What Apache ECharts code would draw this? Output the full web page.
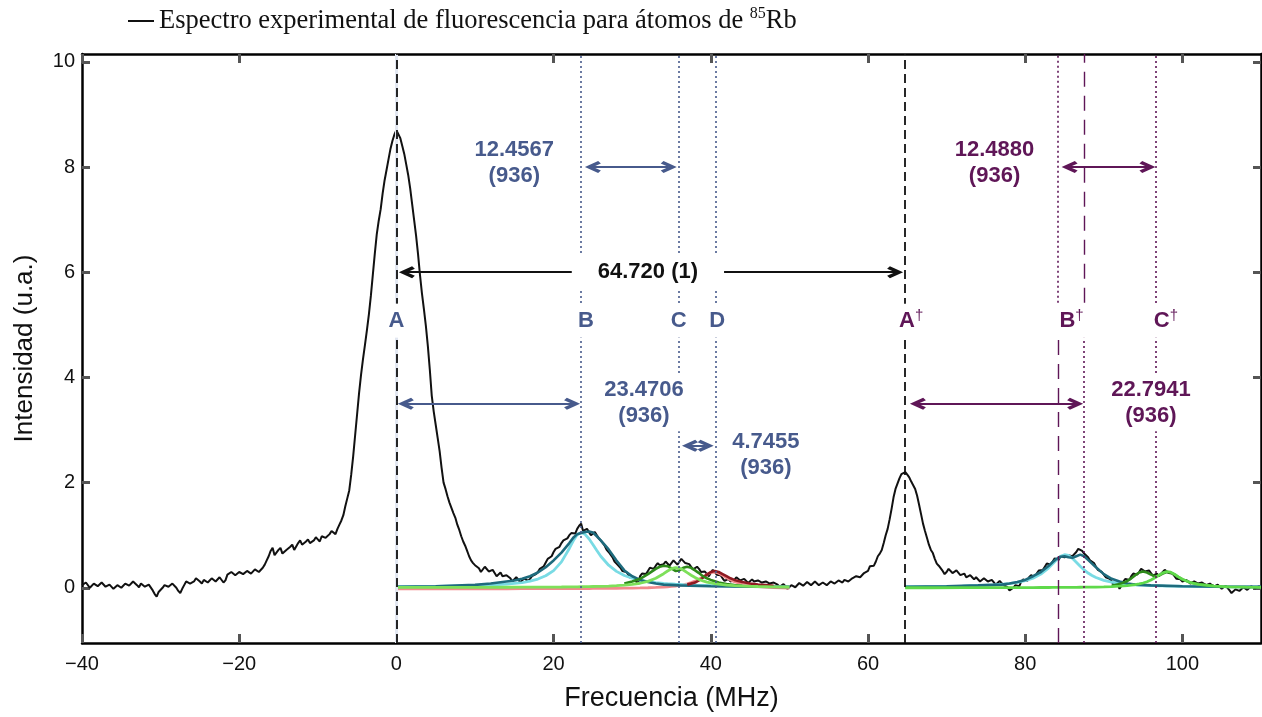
<!DOCTYPE html>
<html><head><meta charset="utf-8">
<script src="https://cdn.jsdelivr.net/npm/echarts@6/dist/echarts.min.js"></script>
<style>html,body{margin:0;padding:0;background:#fff}#c{width:1262px;height:717px}</style>
</head><body><div id="c"></div>
<script>
// ---------------- data ----------------
// spectrum sampled every 0.5 MHz from -40 (specValues) plus the readings half-way between (specMid)
const specStart = -40, specStep = 0.5;
const specValues = [
 0.05,0.10,0.00,0.08,0.03,0.10,0.02,0.06,-0.02,0.05,0.00,0.08,0.04,0.12,0.05,0.08,0.02,0.06,-0.05,-0.17,
 -0.05,0.05,0.02,0.08,0.00,-0.10,0.05,0.15,0.10,0.18,0.12,0.15,0.10,0.18,0.12,0.20,0.10,0.25,0.30,0.24,
 0.30,0.26,0.32,0.27,0.35,0.30,0.38,0.52,0.70,0.62,0.72,0.65,0.72,0.78,0.72,0.85,0.82,0.88,0.85,0.90,
 0.92,0.98,0.95,1.02,1.05,1.12,1.28,1.55,
 1.85,2.5,3.3,4.05,4.62,5.2,5.95,6.72,7.2,7.75,8.15,8.5,8.7,8.55,8.25,7.85,7.3,6.7,5.95,5.3,
 4.6,3.65,3.1,2.6,2.0,1.74,1.52,1.33,1.1,0.88,0.7,0.52,0.43,0.37,
 0.33,0.38,0.30,0.28,0.25,0.22,0.24,0.18,0.14,0.16,0.12,0.20,0.17,0.25,0.30,0.38,0.48,0.58,0.68,0.75,
 0.85,0.93,1.00,1.05,1.12,1.22,1.05,1.10,1.02,1.00,0.90,0.80,0.68,0.58,0.46,0.38,0.30,0.25,0.20,0.12,
 0.22,0.28,0.32,0.38,0.42,0.43,0.45,0.48,0.45,0.50,0.46,0.52,0.44,0.40,0.38,0.36,0.30,0.26,0.28,0.30,
 0.22,0.18,0.14,0.12,0.15,0.18,0.12,0.16,0.10,0.12,0.14,0.10,0.12,0.08,0.10,0.06,0.04,0.03,0.00,0.06,
 0.04,0.10,0.06,0.12,0.08,0.10,0.06,0.12,0.08,0.13,0.10,0.12,0.15,0.12,0.18,0.22,0.20,0.28,0.32,
 0.40,0.50,0.65,0.85,1.12,1.50,1.88,2.08,2.18,2.15,2.02,1.88,1.58,1.22,0.95,0.72,0.55,0.42,0.32,0.30,
 0.35,0.26,0.30,0.22,0.20,0.24,0.16,0.18,0.14,0.15,0.10,0.13,0.08,0.10,0.02,-0.05,0.00,0.06,0.12,0.15,
 0.20,0.22,0.28,0.35,0.40,0.45,0.50,0.55,0.60,0.58,0.62,0.60,0.68,0.75,0.65,0.58,0.50,0.40,0.32,0.25,
 0.18,0.12,0.05,-0.02,0.12,0.18,0.22,0.28,0.30,0.35,0.30,0.28,0.25,0.22,0.30,0.32,0.25,0.22,0.15,0.12,
 0.15,0.08,0.12,0.08,0.10,0.05,0.08,0.02,0.06,-0.02,0.04,-0.05,-0.08,0.00,-0.04,0.02,-0.02,0.04,0.00,0.02
];
const specMid = [
 0.02,0.08,0.02,0.09,0.01,0.08,0.01,0.07,0.00,0.07,0.01,0.10,0.03,0.10,0.01,0.09,0.00,0.05,-0.12,-0.08,
 0.00,0.07,0.00,0.06,-0.06,-0.02,0.12,0.08,0.12,0.20,0.08,0.17,0.08,0.20,0.10,0.18,0.14,0.22,0.32,0.22,
 0.33,0.24,0.34,0.26,0.36,0.28,0.44,0.60,0.76,0.60,0.76,0.63,0.70,0.82,0.74,0.90,0.80,0.92,0.83,0.96,
 0.88,1.00,0.94,1.08,1.02,1.20,1.38,1.70,
 2.15,2.9,3.7,4.35,4.9,5.55,6.35,6.98,7.5,7.95,8.35,8.62,8.68,8.4,8.05,7.6,7.0,6.35,5.6,4.98,
 4.15,3.35,2.85,2.28,1.88,1.62,1.42,1.2,0.98,0.8,0.6,0.47,0.4,
 0.30,0.40,0.31,0.34,0.22,0.29,0.19,0.25,0.12,0.20,0.10,0.18,0.13,0.22,0.26,0.36,0.41,0.55,0.60,0.74,
 0.78,0.90,0.94,1.04,1.03,1.18,1.08,1.12,1.00,1.06,0.94,0.87,0.72,0.65,0.50,0.44,0.32,0.30,0.19,0.20,
 0.08,0.27,0.26,0.38,0.36,0.47,0.40,0.50,0.42,0.52,0.44,0.55,0.47,0.45,0.35,0.40,0.30,0.31,0.22,0.34,
 0.25,0.24,0.13,0.17,0.10,0.20,0.14,0.17,0.09,0.16,0.10,0.15,0.07,0.13,0.05,0.11,0.02,0.07,-0.02,0.05,
 0.01,0.09,0.04,0.11,0.05,0.12,0.05,0.10,0.05,0.12,0.08,0.14,0.10,0.17,0.15,0.16,0.24,0.23,0.31,
 0.41,0.42,0.60,0.72,1.00,1.30,1.72,1.98,2.16,2.20,2.10,1.95,1.75,1.40,1.08,0.82,0.66,0.46,0.40,0.26,
 0.36,0.28,0.33,0.24,0.27,0.17,0.20,0.20,0.12,0.18,0.12,0.15,0.06,0.13,0.05,0.01,-0.08,0.05,0.03,0.16,
 0.13,0.24,0.20,0.33,0.34,0.46,0.44,0.56,0.53,0.63,0.56,0.64,0.58,0.74,0.70,0.66,0.52,0.47,0.34,0.30,
 0.20,0.17,0.06,0.08,0.04,0.17,0.15,0.27,0.25,0.36,0.31,0.33,0.23,0.27,0.24,0.34,0.28,0.27,0.17,0.16,
 0.09,0.13,0.06,0.12,0.05,0.11,0.03,0.07,0.00,0.05,-0.04,0.03,-0.10,-0.03,-0.06,0.01,-0.04,0.03,-0.01,0.03
];

// fitted components, left group
const leftFitX = [0,5,10,14,16,17,18,19,20,21,22,22.5,23,23.5,24,24.5,25,25.5,26,27,28,29,30,31,32,33,34,34.5,35,35.5,36,36.5,37,37.5,38,38.5,39,39.5,40,40.5,41,41.5,42,43,44,45,46,48,50];
const cyanLeft = [0.02,0.026,0.039,0.068,0.10,0.127,0.166,0.228,0.327,0.493,0.748,0.893,1.008,1.05,1.016,0.933,0.824,0.708,0.60,0.429,0.312,0.234,0.181,0.144,0.118,0.098,0.083,0.077,0.072,0.067,0.063,0.059,0.056,0.053,0.05,0.047,0.045,0.043,0.041,0.039,0.038,0.037,0.035,0.032,0.03,0.028,0.027,0.024,0.022];
const greenLeft = [0.007,0.007,0.008,0.01,0.011,0.011,0.012,0.013,0.014,0.015,0.017,0.018,0.019,0.02,0.021,0.022,0.024,0.026,0.027,0.033,0.04,0.049,0.064,0.086,0.122,0.18,0.268,0.319,0.363,0.384,0.375,0.338,0.288,0.239,0.195,0.159,0.132,0.109,0.092,0.079,0.068,0.059,0.052,0.041,0.034,0.028,0.024,0.019,0.015];
const pinkLeft = [-0.019,-0.019,-0.018,-0.018,-0.017,-0.017,-0.017,-0.016,-0.016,-0.016,-0.015,-0.015,-0.015,-0.014,-0.014,-0.014,-0.013,-0.013,-0.013,-0.012,-0.010,-0.008,-0.006,-0.003,0.001,0.006,0.014,0.019,0.026,0.034,0.044,0.057,0.074,0.097,0.126,0.163,0.208,0.254,0.29,0.30,0.278,0.236,0.189,0.114,0.067,0.04,0.023,0.005,-0.004];
const tealLeftX = [0,5,10,12,14,15,16,17,18,19,20,21,22,22.5,23,23.5,24,24.5,25,25.5,26,27,28,29,30,31,32,33,34,36,40,45,50];
const tealLeft = [0.02,0.03,0.055,0.08,0.12,0.14,0.17,0.22,0.29,0.39,0.52,0.67,0.85,0.95,1.02,1.04,1.06,1.07,1.05,0.98,0.9,0.73,0.52,0.33,0.22,0.15,0.11,0.08,0.06,0.045,0.03,0.022,0.018];
const darkGreenLeftX = [29,30,31,32,33,33.5,34,34.5,35,35.5,36,36.5,37,37.5,38,38.5,39,39.5,40,41,42,43,44];
const darkGreenLeft = [0.08,0.12,0.17,0.26,0.36,0.4,0.42,0.41,0.37,0.32,0.33,0.38,0.4,0.38,0.33,0.28,0.22,0.18,0.15,0.1,0.07,0.05,0.04];
const darkRedX = [37,38,38.5,39,39.5,40,40.5,41,41.5,42,42.5,43,44,45,46,47,48];
const darkRed = [0.06,0.1,0.14,0.19,0.25,0.3,0.32,0.3,0.26,0.22,0.18,0.15,0.11,0.08,0.06,0.05,0.04];

// fitted components, right group
const rightFitX = [64.72,68,72,76,78,79,80,81,82,83,83.5,84,84.5,85,85.5,86,86.5,87,87.5,88,88.5,89,90,91,92,93,93.5,94,94.5,95,95.5,96,96.5,97,97.5,98,98.5,99,99.5,100,101,102,104,106,108,110];
const cyanRight = [0.02,0.023,0.033,0.055,0.081,0.102,0.134,0.183,0.26,0.38,0.455,0.533,0.597,0.629,0.615,0.561,0.487,0.409,0.339,0.28,0.233,0.196,0.142,0.108,0.085,0.068,0.062,0.057,0.053,0.049,0.045,0.042,0.04,0.037,0.035,0.033,0.032,0.03,0.029,0.028,0.026,0.024,0.021,0.019,0.018,0.016];
const greenRight = [0.001,0.001,0.002,0.003,0.003,0.003,0.004,0.004,0.005,0.005,0.006,0.006,0.007,0.007,0.008,0.008,0.009,0.01,0.011,0.012,0.013,0.014,0.018,0.023,0.03,0.041,0.049,0.06,0.073,0.091,0.115,0.148,0.189,0.238,0.284,0.309,0.298,0.258,0.208,0.163,0.1,0.065,0.032,0.019,0.012,0.009];
const tealRightX = [64.72,70,74,77,78,79,80,81,82,83,83.5,84,84.5,85,85.5,86,86.5,87,87.5,88,88.5,89,90,91,92,93,94,96,100,105,110];
const tealRight = [0.02,0.03,0.045,0.06,0.08,0.11,0.15,0.22,0.3,0.42,0.49,0.55,0.59,0.6,0.58,0.57,0.6,0.63,0.6,0.53,0.46,0.39,0.26,0.17,0.12,0.08,0.06,0.045,0.03,0.022,0.018];
const darkGreenRightX = [91,92,93,93.5,94,94.5,95,95.5,96,96.5,97,97.5,98,98.5,99,99.5,100,101,102,103,104];
const darkGreenRight = [0.04,0.07,0.13,0.18,0.24,0.29,0.31,0.29,0.25,0.22,0.23,0.27,0.3,0.29,0.25,0.2,0.16,0.1,0.07,0.05,0.04];

// transition positions (MHz)
const linePos = {A:0, B:23.47, C:35.93, D:40.68, A2:64.72, B2a:84.16, B2b:87.51, C2:96.6};
// tick labels
const xTicks = [-40,-20,0,20,40,60,80,100];
const yTicks = [0,2,4,6,8,10];
// annotation texts
const sepTexts = ['12.4567\n(936)','64.720 (1)','23.4706\n(936)','4.7455\n(936)','12.4880\n(936)','22.7941\n(936)'];
const letterTexts = ['A','B','C','D','A','B','C'];
const legendName = 'Espectro experimental de fluorescencia para átomos de 85Rb';

// ---------------- styles ----------------
const BLUE = '#475a8c', PURPLE = '#5f1657', BLACK = '#111';
const SANS = '"Liberation Sans", Arial, Helvetica, sans-serif';
const SERIF = '"Liberation Serif", "Times New Roman", serif';
const CHEV = 'path://M5,0 L10,8.6 L7.9,10.4 L5,5.3 L2.1,10.4 L0,8.6 Z';
const Y_TOP = 10.15, Y_BOT = -1.05;

function zip(xs, ys){ const n = Math.min(xs.length, ys.length); const o=[]; for(let i=0;i<n;i++) o.push([xs[i], ys[i]]); return o; }
const specData = [];
for (let k = 0; k < specValues.length; k++) {
  specData.push([specStart + k*specStep, specValues[k]]);
  if (k < specMid.length) specData.push([specStart + (k+0.5)*specStep, specMid[k]]);
}

function fit(name, xs, ys, color, w){
  return {type:'line', name, data: zip(xs,ys), showSymbol:false, symbol:'none', silent:true,
    lineStyle:{color, width:w}, z:3, animation:false};
}
function vline(x, color, type, width, y0, y1){
  return [{coord:[x,y0], lineStyle:{color, type, width}}, {coord:[x,y1]}];
}
const dotB = [2,3], dashA = [9,5], dashLong = [15,9], dotP = [2,3];
const vlines = [
  vline(linePos.A, '#e2e7f1', 'solid', 3, Y_BOT, Y_TOP),
  vline(linePos.A, BLACK, dashA, 1.8, Y_BOT, Y_TOP),
  vline(linePos.B, BLUE, dotB, 1.6, Y_BOT, Y_TOP),
  vline(linePos.C, BLUE, dotB, 1.6, Y_BOT, Y_TOP),
  vline(linePos.D, BLUE, dotB, 1.6, Y_BOT, Y_TOP),
  vline(linePos.A2, BLACK, dashA, 1.8, Y_BOT, Y_TOP),
  vline(linePos.B2a, PURPLE, dotP, 1.6, 5.42, Y_TOP),
  vline(linePos.B2a, PURPLE, dashLong, 1.4, Y_BOT, 4.76),
  vline(linePos.B2b, PURPLE, dashLong, 1.4, 5.42, Y_TOP),
  vline(linePos.B2b, PURPLE, dotP, 1.6, Y_BOT, 4.76),
  vline(linePos.C2, PURPLE, dotP, 1.6, Y_BOT, Y_TOP)
];
// arrow end points (centre of the arrow heads, MHz)
function arrow(x0, x1, y, color){
  return [{coord:[x0,y], lineStyle:{color, width:2, type:'solid'}, itemStyle:{color}}, {coord:[x1,y], itemStyle:{color}}];
}
const arrows = [
  arrow(25.0, 34.65, 8, BLUE),
  arrow(1.33, 63.45, 6, BLACK),
  arrow(1.2, 22.35, 3.5, BLUE),
  arrow(37.35, 39.35, 2.7, BLUE),
  arrow(85.65, 95.55, 8, PURPLE),
  arrow(66.35, 86.35, 3.5, PURPLE)
];

const sepPos = [[15.0,8.08,BLUE],[32.0,6.0,BLACK],[31.5,3.51,BLUE],[47.0,2.53,BLUE],[76.1,8.08,PURPLE],[96.0,3.51,PURPLE]];
const sepData = sepTexts.map((t,i)=>({
  value:[sepPos[i][0], sepPos[i][1]],
  label:{show:true, position:'inside', formatter:t, color:sepPos[i][2], opacity:1, fontFamily:SANS, fontWeight:'bold',
    fontSize:22, lineHeight:26, backgroundColor:'#fff', padding: i===1?[4,26]:[2,4], align:'center', verticalAlign:'middle',
    textBorderWidth:0}
}));
const letterPos = [[0,BLUE,false],[24.1,BLUE,false],[35.93,BLUE,false],[40.8,BLUE,false],[65.5,PURPLE,true],[85.9,PURPLE,true],[97.9,PURPLE,true]];
const letterData = letterTexts.map((t,i)=>({
  value:[letterPos[i][0], 5.08],
  label:{show:true, position:'inside', opacity:1, formatter: letterPos[i][2] ? '{m|'+t+'}{s|\u2020}' : '{m|'+t+'}',
    backgroundColor:'#fff', padding:[5,3], align:'center', verticalAlign:'middle', textBorderWidth:0,
    rich:{ m:{color:letterPos[i][1], fontFamily:SANS, fontWeight:'bold', fontSize:22, lineHeight:24},
           s:{color:letterPos[i][1], fontFamily:SANS, fontSize:15, lineHeight:15, verticalAlign:'top'} }}
}));

const chart = echarts.init(document.getElementById('c'), null, {renderer:'canvas'});
const axisLineStyle = {color:'#000', width:2.5};
const tickStyle = {color:'#555', width:3};
chart.setOption({
  animation:false,
  backgroundColor:'#fff',
  grid:{left:82, right:1, top:54, bottom:74, containLabel:false},
  legend:{
    data:[{name:legendName, icon:'rect'}], left:123, top:1, itemWidth:26, itemHeight:2, selectedMode:false,
    formatter: ()=> '{t|Espectro experimental de fluorescencia para átomos de }{s|85}{t|Rb}',
    textStyle:{ rich:{ t:{fontFamily:SERIF, fontSize:26.5, color:'#111', lineHeight:30},
                      s:{fontFamily:SERIF, fontSize:16, color:'#111', lineHeight:16, verticalAlign:'top'} } }
  },
  xAxis:[
    {type:'value', min:-40, max:110, interval:20, position:'bottom',
     name:'Frecuencia (MHz)', nameLocation:'middle', nameGap:42,
     nameTextStyle:{fontFamily:SANS, fontSize:27, color:'#111'},
     axisLine:{show:true, lineStyle:axisLineStyle, onZero:false},
     axisTick:{show:true, inside:true, length:9, lineStyle:tickStyle, customValues:xTicks},
     axisLabel:{fontFamily:SANS, fontSize:20, color:'#111', margin:11, customValues:xTicks,
       formatter:v=> v<0 ? '\u2212'+Math.abs(v) : String(v)},
     splitLine:{show:false}},
    {type:'value', min:-40, max:110, interval:20, position:'top',
     axisLine:{show:true, lineStyle:axisLineStyle, onZero:false},
     axisTick:{show:true, inside:true, length:9, lineStyle:tickStyle, customValues:xTicks},
     axisLabel:{show:false}, splitLine:{show:false}}
  ],
  yAxis:[
    {type:'value', min:Y_BOT, max:Y_TOP, position:'left',
     name:'Intensidad (u.a.)', nameLocation:'middle', nameGap:44,
     nameTextStyle:{fontFamily:SANS, fontSize:26, color:'#111'},
     axisLine:{show:true, lineStyle:axisLineStyle, onZero:false},
     axisTick:{show:true, inside:true, length:8, lineStyle:tickStyle, customValues:yTicks},
     axisLabel:{fontFamily:SANS, fontSize:20, color:'#111', margin:7, customValues:yTicks},
     splitLine:{show:false}},
    {type:'value', min:Y_BOT, max:Y_TOP, position:'right',
     axisLine:{show:true, lineStyle:axisLineStyle, onZero:false},
     axisTick:{show:true, inside:true, length:8, lineStyle:tickStyle, customValues:yTicks},
     axisLabel:{show:false}, splitLine:{show:false}}
  ],
  series:[
    {type:'line', name:'guides', data:[], silent:true, z:1,
     markLine:{silent:true, symbol:'none', animation:false, label:{show:false}, data:vlines}},
    {type:'line', name:legendName, data:specData, showSymbol:false, symbol:'none', silent:true,
     lineStyle:{color:'#111', width:2}, itemStyle:{color:'#111'}, z:2},
    fit('pinkL', leftFitX, pinkLeft, '#f28a8c', 2.8),
    fit('cyanL', leftFitX, cyanLeft, '#79dbe4', 2.8),
    fit('tealL', tealLeftX, tealLeft, '#1e6b7d', 2.6),
    fit('darkRed', darkRedX, darkRed, '#8f1a22', 2.6),
    fit('dgL', darkGreenLeftX, darkGreenLeft, '#2e8a1a', 2.6),
    fit('greenL', leftFitX, greenLeft, '#7ee05a', 2.8),
    fit('cyanR', rightFitX, cyanRight, '#79dbe4', 2.8),
    fit('tealR', tealRightX, tealRight, '#1e6b7d', 2.6),
    fit('dgR', darkGreenRightX, darkGreenRight, '#2e8a1a', 2.6),
    fit('greenR', rightFitX, greenRight, '#5fd94a', 2.8),
    {type:'line', name:'arrows', data:[], silent:true, z:4,
     markLine:{silent:true, symbol:[CHEV, CHEV], symbolSize:[12,16], animation:false, label:{show:false}, data:arrows}},
    {type:'scatter', name:'sepLabels', data:sepData, symbolSize:1, itemStyle:{color:'rgba(0,0,0,0)', opacity:1}, silent:true, z:6},
    {type:'scatter', name:'letters', data:letterData, symbolSize:1, itemStyle:{color:'rgba(0,0,0,0)', opacity:1}, silent:true, z:6}
  ]
});
</script>
</body></html>
